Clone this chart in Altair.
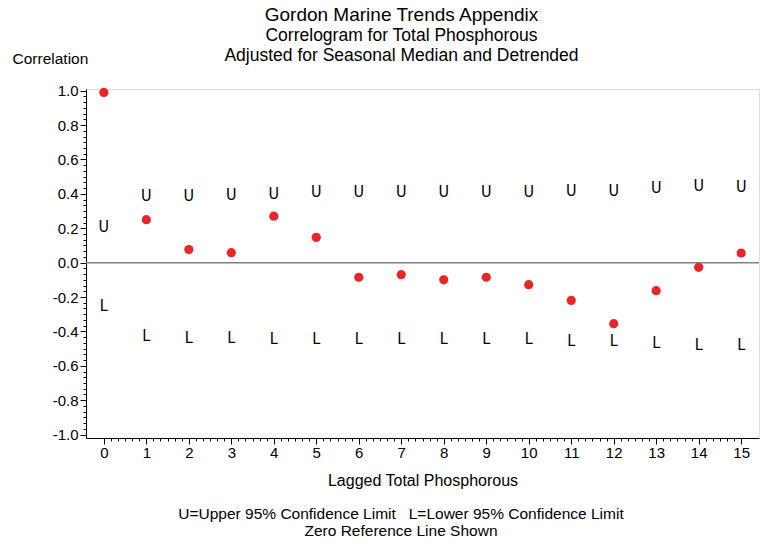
import altair as alt
import pandas as pd

lags = list(range(16))
acf = [0.99, 0.25, 0.076, 0.058, 0.27, 0.147, -0.085, -0.07, -0.10, -0.085,
       -0.128, -0.22, -0.355, -0.163, -0.027, 0.056]
upper = [0.21, 0.385, 0.39, 0.395, 0.40, 0.41, 0.41, 0.41, 0.41, 0.41,
         0.412, 0.415, 0.418, 0.435, 0.445, 0.44]
lower = [-0.254, -0.428, -0.436, -0.44, -0.442, -0.444, -0.444, -0.444, -0.444, -0.444,
         -0.446, -0.457, -0.457, -0.47, -0.477, -0.477]

x_major = list(range(16))
y_major = [-1.0, -0.8, -0.6, -0.4, -0.2, 0.0, 0.2, 0.4, 0.6, 0.8, 1.0]

df = pd.DataFrame({"lag": lags, "acf": acf, "upper": upper, "lower": lower})

FONT = "Liberation Sans"
UFONT = "DejaVu Sans Condensed, Liberation Sans"

x_ticks = [round(i / 6, 4) for i in range(0, 15 * 6 + 1)]
y_ticks = [round(-1 + i * 0.2 / 6, 4) for i in range(0, 61)]

xscale = alt.Scale(domain=[-0.42, 15.42], nice=False, zero=False)
yscale = alt.Scale(domain=[-1.02, 1.01], nice=False, zero=False)

xaxis = alt.Axis(
    values=x_ticks,
    labelExpr="abs(datum.value - round(datum.value)) < 0.001 ? format(datum.value, 'd') : ''",
    tickSize={"condition": {"test": "abs(datum.value - round(datum.value)) < 0.001", "value": 6}, "value": 3},
    grid=False, domainColor="black", tickColor="black", labelColor="black",
    labelFont=FONT, labelFontSize=15, labelPadding=1,
    title="Lagged Total Phosphorous", titleFont=FONT, titleFontSize=16,
    titleFontWeight="normal", titleColor="black",
    titleY=42, titleBaseline="middle",
)
yaxis = alt.Axis(
    values=y_ticks,
    labelExpr="abs(datum.value * 5 - round(datum.value * 5)) < 0.001 ? replace(format(datum.value, '.1f'), '\u2212', '-') : ''",
    tickSize={"condition": {"test": "abs(datum.value * 5 - round(datum.value * 5)) < 0.001", "value": 6}, "value": 3},
    grid=False, domainColor="black", tickColor="black", labelColor="black",
    labelFont=FONT, labelFontSize=15, labelPadding=2,
    title="Correlation", titleFont=FONT, titleFontSize=15.5,
    titleFontWeight="normal", titleColor="black",
    titleAngle=0, titleX=-74, titleY=-31, titleAlign="left", titleBaseline="middle",
)

base = alt.Chart(df)

zero = alt.Chart(pd.DataFrame({"z": [0.0]})).mark_rule(color="#808080", strokeWidth=1.5).encode(
    y=alt.Y("z:Q", scale=yscale, axis=yaxis)
)

pts = base.mark_circle(color="#e8262a", opacity=1, size=85).encode(
    x=alt.X("lag:Q", scale=xscale, axis=xaxis),
    y=alt.Y("acf:Q", scale=yscale, axis=yaxis),
)

utext = base.mark_text(text="U", font=UFONT, fontSize=16,
                       color="black", baseline="middle", align="center").encode(
    x=alt.X("lag:Q", scale=xscale, axis=xaxis),
    y=alt.Y("upper:Q", scale=yscale, axis=yaxis),
)
ltext = base.mark_text(text="L", font=UFONT, fontSize=16,
                       color="black", baseline="middle", align="center").encode(
    x=alt.X("lag:Q", scale=xscale, axis=xaxis),
    y=alt.Y("lower:Q", scale=yscale, axis=yaxis),
)

foot_lines = ["U=Upper 95% Confidence Limit\u00a0\u00a0\u00a0L=Lower 95% Confidence Limit",
              "Zero Reference Line Shown"]
foot = alt.Chart(pd.DataFrame({"t": ["\n".join(foot_lines)]})).mark_text(
    font=FONT, fontSize=15.5, color="black", baseline="middle", align="center", lineBreak="\n", lineHeight=17
).encode(text="t:N", x=alt.value(315), y=alt.value(425))

chart = alt.layer(zero, pts, utext, ltext, foot).properties(
    width=673, height=349,
    title=alt.TitleParams(
        text="Gordon Marine Trends Appendix",
        subtitle=["Correlogram for Total Phosphorous", "Adjusted for Seasonal Median and Detrended"],
        font=FONT, fontSize=19, fontWeight="normal", color="black",
        subtitleFont=FONT, subtitleFontSize=17.5, subtitleColor="black", subtitlePadding=2,
        subtitleLineHeight=19.5,
        anchor="middle", dx=-21, offset=-13,
    ),
    autosize=alt.AutoSizeParams(type="none"),
    padding={"left": 78, "top": 81, "right": 2, "bottom": 100},
).configure_view(stroke="black", strokeWidth=1.2).configure(background="white")

chart.save("out.html", embed_options={"renderer": "svg", "actions": False})
